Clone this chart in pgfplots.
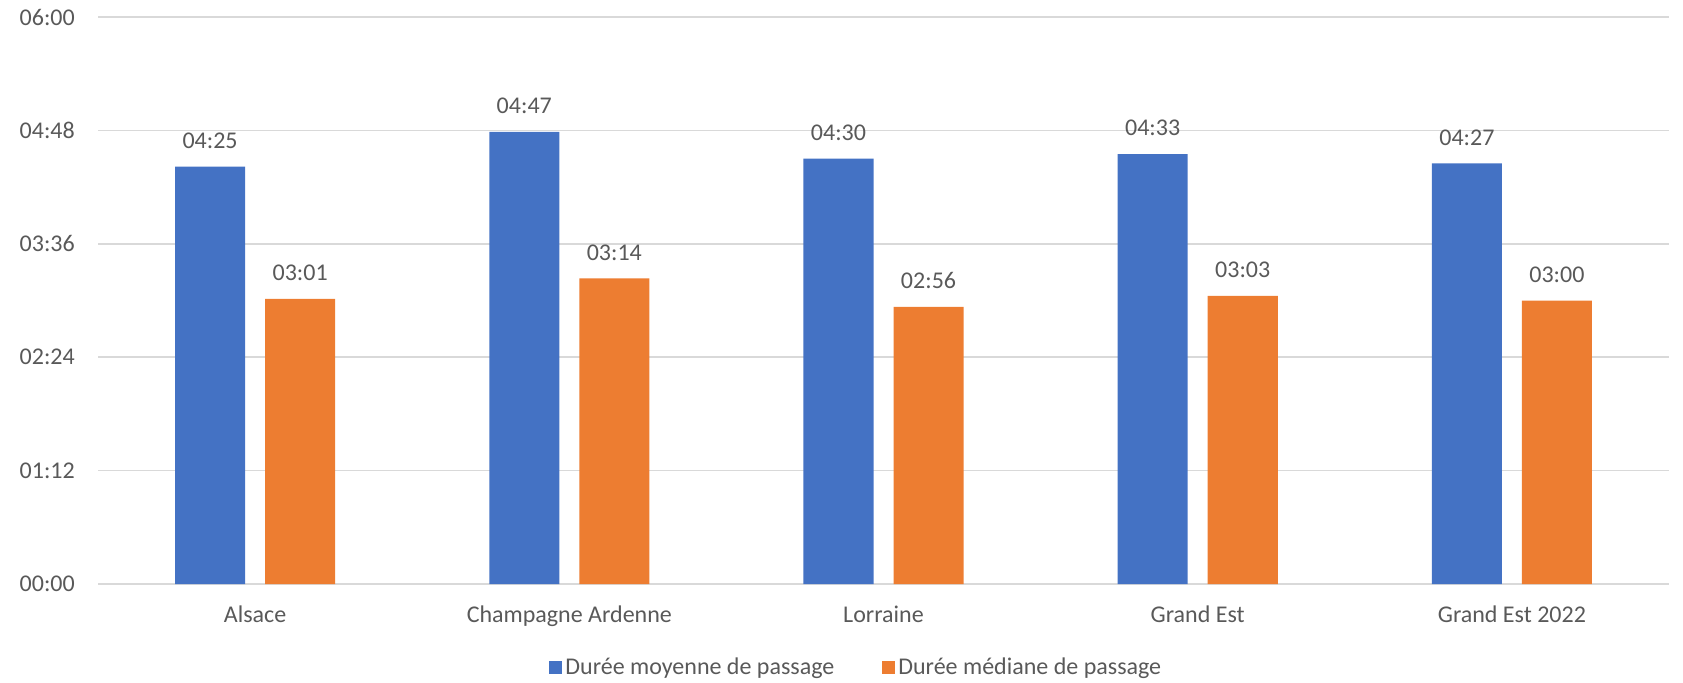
\documentclass[border=0pt]{standalone}
\usepackage{pgfplots}
\pgfplotsset{compat=1.18}
\usepackage{pgfplotstable}
\usepackage{fontspec}
\setmainfont{Carlito}
\definecolor{cblue}{HTML}{4472C4}
\definecolor{corange}{HTML}{ED7D31}
\definecolor{cgrid}{HTML}{D9D9D9}
\definecolor{ctext}{HTML}{595959}

\pgfplotstableread{
x y lab
0 265 04:25
1 287 04:47
2 270 04:30
3 273 04:33
4 267 04:27
}\moyenne
\pgfplotstableread{
x y lab
0 181 03:01
1 194 03:14
2 176 02:56
3 183 03:03
4 180 03:00
}\mediane

\begin{document}
\fontsize{24}{28}\selectfont
\begin{tikzpicture}
\begin{axis}[
  scale only axis,
  width=1571pt, height=567pt,
  xmin=-0.5, xmax=4.5,
  ymin=0, ymax=360,
  ytick={0,72,144,216,288,360},
  yticklabels={00:00,01:12,02:24,03:36,04:48,06:00},
  xtick={0,1,2,3,4},
  xticklabels={Alsace,Champagne Ardenne,Lorraine,Grand Est,Grand Est 2022},
  ymajorgrids,
  grid style={draw=cgrid, line width=1.5pt},
  axis line style={draw=none},
  tick style={draw=none},
  major tick length=0pt,
  tick label style={font=\fontsize{24}{28}\selectfont, text=ctext, inner sep=0pt},
  yticklabel style={anchor=east, xshift=-23pt},
  xticklabel style={anchor=north, yshift=-22pt},
  ybar,
  bar width=0.2229,
  nodes near coords,
  point meta=explicit symbolic,
  every node near coord/.append style={font=\fontsize{24}{28}\selectfont, text=ctext, inner sep=0pt, anchor=south, yshift=18pt},
  legend columns=2,
  legend style={at={(0.483,-0.148)}, anchor=center, draw=none, fill=none,
    font=\fontsize{24}{28}\selectfont, text=ctext,
    /tikz/every even column/.append style={column sep=45pt},
    nodes={inner sep=3pt}},
  legend image code/.code={\fill[#1] (0pt,-6.5pt) rectangle (13pt,6.5pt);},
  clip=false,
]
\addplot[fill=cblue, draw=none, bar shift=-0.1433] table[x=x, y=y, meta=lab] {\moyenne};
\addlegendentry{Durée moyenne de passage}
\addplot[fill=corange, draw=none, bar shift=0.1433] table[x=x, y=y, meta=lab] {\mediane};
\addlegendentry{Durée médiane de passage}
\end{axis}
\pgfresetboundingbox
\path ([xshift=-98pt,yshift=-98pt]current axis.south west) rectangle ([xshift=14pt,yshift=17pt]current axis.north east);
\end{tikzpicture}
\end{document}
